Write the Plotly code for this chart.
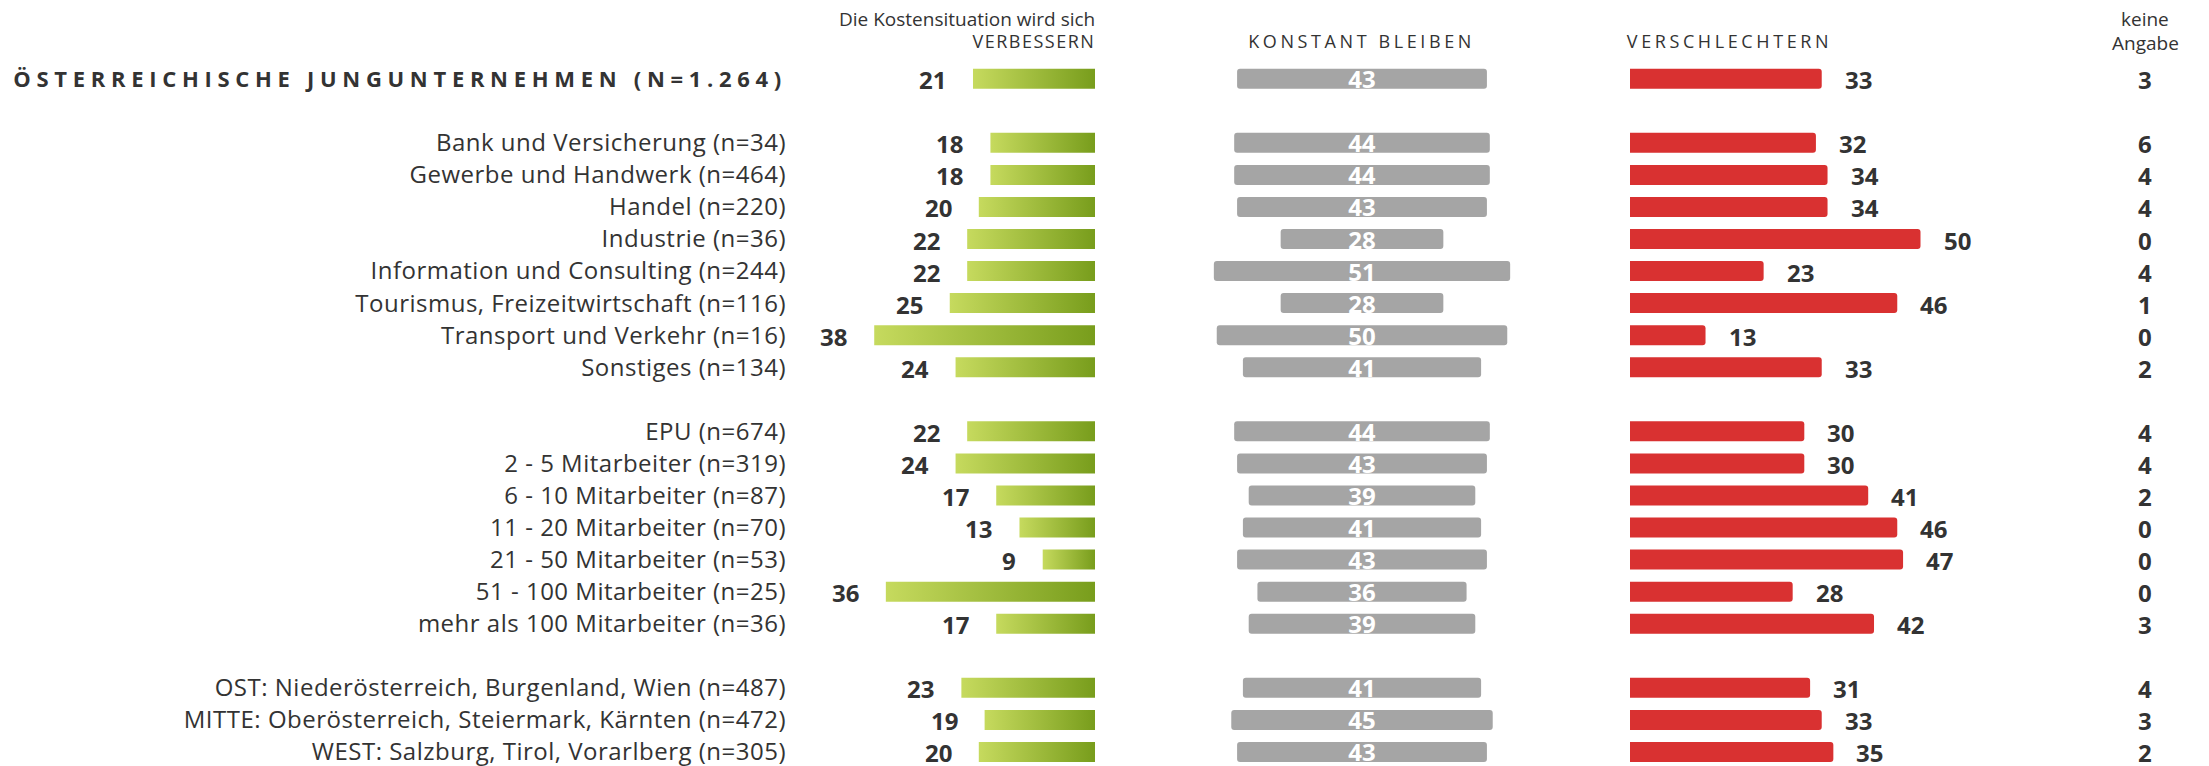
import plotly.graph_objects as go

W, H = 2209, 766

# ---------------- data ----------------
total_labels = ["ÖSTERREICHISCHE JUNGUNTERNEHMEN (N=1.264)"]
total_verbessern = [21]
total_konstant = [43]
total_verschlechtern = [33]
total_keine = [3]

branche_labels = [
    "Bank und Versicherung (n=34)",
    "Gewerbe und Handwerk (n=464)",
    "Handel (n=220)",
    "Industrie (n=36)",
    "Information und Consulting (n=244)",
    "Tourismus, Freizeitwirtschaft (n=116)",
    "Transport und Verkehr (n=16)",
    "Sonstiges (n=134)",
]
branche_verbessern = [18, 18, 20, 22, 22, 25, 38, 24]
branche_konstant = [44, 44, 43, 28, 51, 28, 50, 41]
branche_verschlechtern = [32, 34, 34, 50, 23, 46, 13, 33]
branche_keine = [6, 4, 4, 0, 4, 1, 0, 2]

groesse_labels = [
    "EPU (n=674)",
    "2 - 5 Mitarbeiter (n=319)",
    "6 - 10 Mitarbeiter (n=87)",
    "11 - 20 Mitarbeiter (n=70)",
    "21 - 50 Mitarbeiter (n=53)",
    "51 - 100 Mitarbeiter (n=25)",
    "mehr als 100 Mitarbeiter (n=36)",
]
groesse_verbessern = [22, 24, 17, 13, 9, 36, 17]
groesse_konstant = [44, 43, 39, 41, 43, 36, 39]
groesse_verschlechtern = [30, 30, 41, 46, 47, 28, 42]
groesse_keine = [4, 4, 2, 0, 0, 0, 3]

region_labels = [
    "OST: Niederösterreich, Burgenland, Wien (n=487)",
    "MITTE: Oberösterreich, Steiermark, Kärnten (n=472)",
    "WEST: Salzburg, Tirol, Vorarlberg (n=305)",
]
region_verbessern = [23, 19, 20]
region_konstant = [41, 45, 43]
region_verschlechtern = [31, 33, 35]
region_keine = [4, 3, 2]

header_verbessern_top = "Die Kostensituation wird sich"
header_verbessern = "VERBESSERN"
header_konstant = "KONSTANT BLEIBEN"
header_verschlechtern = "VERSCHLECHTERN"
header_keine = ["keine", "Angabe"]

# ---------------- layout constants ----------------
PX = 5.81            # pixels per percentage point
GREEN_LEFT, GREEN_RIGHT = 787, 1095
GRAY_CENTER, GRAY_HALF = 1362, 212
RED_LEFT = 1630
KEINE_X = 2145
ROW0, ROWH = 78.7, 32.06
BAR_W = 0.624

TXT = "#333333"
FONT = "Open Sans"
GREEN_LIGHT, GREEN_DARK = "#c6da5e", "#789d1c"
GRAY = "#a5a5a5"
RED = "#d93131"

groups = [
    (total_labels, total_verbessern, total_konstant, total_verschlechtern, total_keine),
    (branche_labels, branche_verbessern, branche_konstant, branche_verschlechtern, branche_keine),
    (groesse_labels, groesse_verbessern, groesse_konstant, groesse_verschlechtern, groesse_keine),
    (region_labels, region_verbessern, region_konstant, region_verschlechtern, region_keine),
]

slots, labels, verb, konst, versch, keine = [], [], [], [], [], []
s = 0
for gi, (lab, v1, v2, v3, v4) in enumerate(groups):
    for i in range(len(lab)):
        slots.append(s)
        labels.append("<b>" + lab[i] + "</b>" if gi == 0 else lab[i])
        verb.append(v1[i]); konst.append(v2[i]); versch.append(v3[i]); keine.append(v4[i])
        s += 1
    s += 1

fig = go.Figure()

# green gradient bars (filled shapes so a gradient can be used)
h = BAR_W / 2
for sl, v in zip(slots, verb):
    fig.add_trace(go.Scatter(
        x=[0, v, v, 0, 0], y=[sl - h, sl - h, sl + h, sl + h, sl - h],
        mode="lines", fill="toself", line=dict(width=0),
        fillgradient=dict(type="horizontal",
                          colorscale=[[0, GREEN_LIGHT], [1, GREEN_DARK]]),
        hoverinfo="skip", showlegend=False, xaxis="x", yaxis="y"))

# gray centered bars
fig.add_trace(go.Bar(
    y=slots, x=konst, base=[-k / 2 for k in konst], orientation="h",
    width=BAR_W, marker=dict(color=GRAY, cornerradius=3, line=dict(width=0)),
    text=[str(k) for k in konst], textposition="inside", insidetextanchor="middle",
    constraintext="none", textangle=0,
    textfont=dict(family=FONT, size=24, color="white", weight="bold"),
    hoverinfo="skip", showlegend=False, xaxis="x2", yaxis="y"))

# red bars
fig.add_trace(go.Bar(
    y=slots, x=versch, orientation="h", width=BAR_W,
    marker=dict(color=RED, cornerradius=3, line=dict(width=0)),
    hoverinfo="skip", showlegend=False, xaxis="x3", yaxis="y"))

ann = []
valfont = dict(family=FONT, size=24, color=TXT, weight="bold")
for sl, v, r, k in zip(slots, verb, versch, keine):
    ann.append(dict(x=v, xref="x", y=sl, yref="y", text=str(v), showarrow=False,
                    xanchor="right", yanchor="middle", xshift=-25, yshift=-1, font=valfont))
    ann.append(dict(x=r, xref="x3", y=sl, yref="y", text=str(r), showarrow=False,
                    xanchor="left", yanchor="middle", xshift=21, yshift=-1, font=valfont))
    ann.append(dict(x=KEINE_X / W, xref="paper", y=sl, yref="y", text=str(k), showarrow=False,
                    xanchor="center", yanchor="middle", yshift=-1, font=valfont))


def py(p):
    return 1 - p / H


hfont = dict(family=FONT, size=18, color=TXT)
ann += [
    dict(x=1097 / W, xref="paper", y=py(19.3), yref="paper", text=header_verbessern_top,
         showarrow=False, xanchor="right", yanchor="middle",
         font=dict(family=FONT, size=19, color=TXT)),
    dict(x=1034 / W, xref="paper", y=py(41.3), yref="paper", text=header_verbessern,
         showarrow=False, xanchor="center", yanchor="middle", font=hfont),
    dict(x=1361 / W, xref="paper", y=py(41.3), yref="paper", text=header_konstant,
         showarrow=False, xanchor="center", yanchor="middle", font=hfont),
    dict(x=1729 / W, xref="paper", y=py(41.3), yref="paper", text=header_verschlechtern,
         showarrow=False, xanchor="center", yanchor="middle", font=hfont),
    dict(x=KEINE_X / W, xref="paper", y=py(18.6), yref="paper", text=header_keine[0],
         showarrow=False, xanchor="center", yanchor="middle",
         font=dict(family=FONT, size=19, color=TXT)),
    dict(x=KEINE_X / W, xref="paper", y=py(42.6), yref="paper", text=header_keine[1],
         showarrow=False, xanchor="center", yanchor="middle",
         font=dict(family=FONT, size=19, color=TXT)),
]

noax = dict(showgrid=False, zeroline=False, showline=False, showticklabels=False,
            ticks="", fixedrange=True)
fig.update_layout(
    width=W, height=H, margin=dict(l=0, r=0, t=0, b=0),
    paper_bgcolor="white", plot_bgcolor="white", barmode="overlay",
    showlegend=False,
    xaxis=dict(domain=[GREEN_LEFT / W, GREEN_RIGHT / W],
               range=[(GREEN_RIGHT - GREEN_LEFT) / PX, 0], anchor="y", **noax),
    xaxis2=dict(domain=[(GRAY_CENTER - GRAY_HALF) / W, (GRAY_CENTER + GRAY_HALF) / W],
                range=[-GRAY_HALF / PX, GRAY_HALF / PX], anchor="y", **noax),
    xaxis3=dict(domain=[RED_LEFT / W, 1], range=[0, (W - RED_LEFT) / PX], anchor="y", **noax),
    yaxis=dict(domain=[0, 1], range=[(H - ROW0) / ROWH, -ROW0 / ROWH], anchor="x",
               tickvals=slots, ticktext=labels, showgrid=False, zeroline=False,
               showline=False, ticks="", fixedrange=True, ticklabeloverflow="allow",
               tickfont=dict(family=FONT, size=24, color=TXT)),
    annotations=ann,
)

post = """
document.body.style.margin = '0';
document.body.style.padding = '0';
var ls = {"VERBESSERN": "1.5px", "KONSTANT BLEIBEN": "3.6px", "VERSCHLECHTERN": "3.6px"};
document.querySelectorAll('text').forEach(function(t){
  var c = t.textContent;
  if (ls[c]) { t.style.letterSpacing = ls[c]; }
});
document.querySelectorAll('.ytick text').forEach(function(t){
  var c = t.textContent;
  if (c.indexOf('ÖSTERREICHISCHE') === 0) {
    t.style.letterSpacing = '5.7px'; t.style.fontSize = '22px'; t.setAttribute('dx', '1');
  } else {
    t.style.letterSpacing = '0.5px';
  }
});
"""

fig.write_html("out.html", post_script=post, config={"displayModeBar": False})
